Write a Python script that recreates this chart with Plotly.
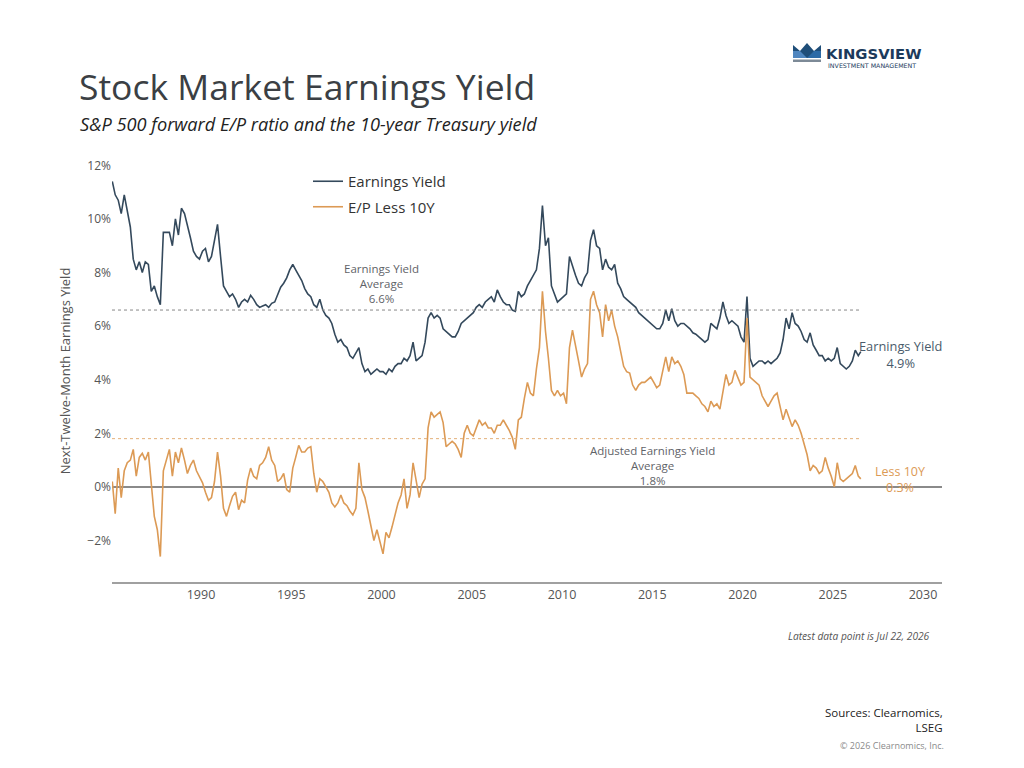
import pandas as pd
import plotly.graph_objects as go

# ---------------- data (bi-monthly readings, last point Jul 22, 2026) ----------------
earnings_yield = [
    11.4, 10.9, 10.7, 10.2, 10.9, 10.3,   # 1985
    9.7, 8.5, 8.1, 8.4, 8.0, 8.4,         # 1986
    8.3, 7.3, 7.5, 7.1, 6.8, 9.5,         # 1987
    9.5, 9.5, 9.0, 10.0, 9.4, 10.4,       # 1988
    10.2, 9.8, 9.3, 8.8, 8.6, 8.5,        # 1989
    8.8, 8.9, 8.4, 8.6, 9.2, 9.8,         # 1990
    8.6, 7.5, 7.3, 7.1, 7.2, 7.0,         # 1991
    6.7, 6.9, 7.0, 6.9, 7.15, 7.0,        # 1992
    6.8, 6.7, 6.75, 6.8, 6.7, 6.85,       # 1993
    6.9, 7.2, 7.45, 7.6, 7.8, 8.1,        # 1994
    8.3, 8.1, 7.9, 7.7, 7.4, 7.2,         # 1995
    7.1, 6.8, 6.7, 7.0, 6.6, 6.4,         # 1996
    6.3, 6.1, 5.7, 5.4, 5.5, 5.3,         # 1997
    5.2, 4.9, 4.8, 5.0, 5.2, 4.6,         # 1998
    4.3, 4.4, 4.2, 4.3, 4.4, 4.3,         # 1999
    4.3, 4.2, 4.4, 4.3, 4.5, 4.6,         # 2000
    4.6, 4.8, 4.7, 4.9, 5.4, 4.7,         # 2001
    4.8, 4.9, 5.4, 6.3, 6.5, 6.3,         # 2002
    6.4, 6.3, 5.9, 5.8, 5.7, 5.6,         # 2003
    5.6, 5.8, 6.1, 6.2, 6.3, 6.4,         # 2004
    6.5, 6.7, 6.8, 6.7, 6.9, 7.0,         # 2005
    7.1, 6.9, 7.35, 7.1, 6.9, 6.8,        # 2006
    6.8, 6.6, 6.55, 7.3, 7.1, 7.2,        # 2007
    7.5, 7.7, 7.9, 8.1, 8.9, 10.5,        # 2008
    9.0, 9.3, 7.5, 7.2, 6.9, 7.0,         # 2009
    7.1, 7.2, 8.6, 8.2, 7.9, 7.6,         # 2010
    7.5, 7.8, 8.0, 9.2, 9.6, 9.0,         # 2011
    8.9, 8.1, 8.5, 8.2, 8.1, 8.3,         # 2012
    7.6, 7.4, 7.1, 7.0, 6.9, 6.8,         # 2013
    6.7, 6.5, 6.4, 6.3, 6.2, 6.1,         # 2014
    6.0, 5.9, 5.9, 6.1, 6.6, 6.2,         # 2015
    6.65, 6.2, 6.0, 6.1, 6.1, 6.0,        # 2016
    5.9, 5.75, 5.7, 5.6, 5.5, 5.4,        # 2017
    5.5, 6.1, 6.0, 5.9, 6.3, 6.9,         # 2018
    6.4, 6.1, 6.2, 6.1, 6.0, 5.6,         # 2019
    5.4, 7.1, 4.8, 4.5, 4.6, 4.7,         # 2020
    4.7, 4.6, 4.7, 4.6, 4.7, 4.8,         # 2021
    5.0, 5.5, 6.3, 5.9, 6.5, 6.1,         # 2022
    6.0, 5.8, 5.5, 5.4, 5.75, 5.3,        # 2023
    5.1, 4.9, 4.9, 4.7, 4.8, 4.7,         # 2024
    4.8, 5.2, 4.6, 4.5, 4.4, 4.5,         # 2025
    4.7, 5.1, 4.9, 5.05,                  # 2026
]

ep_less_10y = [
    0.2, -1.0, 0.7, -0.4, 0.6, 0.9,       # 1985
    1.0, 1.4, 0.4, 1.1, 1.25, 1.0,        # 1986
    1.3, 0.0, -1.1, -1.6, -2.6, 0.6,      # 1987
    1.0, 1.4, 0.4, 1.3, 0.9, 1.45,        # 1988
    1.0, 0.5, 0.8, 1.0, 0.6, 0.4,         # 1989
    0.15, -0.2, -0.5, -0.4, 0.2, 1.3,     # 1990
    0.4, -0.8, -1.1, -0.7, -0.35, -0.2,   # 1991
    -0.85, -0.5, -0.6, 0.25, 0.7, 0.4,    # 1992
    0.3, 0.8, 0.9, 1.1, 1.5, 1.0,         # 1993
    0.8, 0.2, 0.3, 0.5, -0.1, -0.2,       # 1994
    0.7, 1.1, 1.55, 1.3, 1.3, 1.45,       # 1995
    1.5, 0.5, -0.2, 0.3, 0.2, 0.0,        # 1996
    -0.2, -0.6, -0.75, -0.6, -0.3, -0.6,  # 1997
    -0.7, -0.9, -1.05, -0.8, 0.9, -0.1,   # 1998
    -0.4, -0.9, -1.5, -2.0, -1.6, -2.0,   # 1999
    -2.5, -1.7, -1.9, -1.5, -1.0, -0.6,   # 2000
    -0.3, 0.3, -0.8, -0.3, 0.9, 0.2,      # 2001
    -0.4, 0.1, 0.3, 2.2, 2.8, 2.6,        # 2002
    2.7, 2.8, 2.4, 1.5, 1.6, 1.7,         # 2003
    1.6, 1.4, 1.1, 2.0, 2.3, 2.0,         # 2004
    1.9, 2.2, 2.5, 2.3, 2.4, 2.2,         # 2005
    2.2, 2.0, 2.3, 2.3, 2.5, 2.3,         # 2006
    2.1, 1.85, 1.4, 2.5, 2.6, 3.3,        # 2007
    3.9, 3.5, 3.4, 4.4, 5.2, 7.3,         # 2008
    5.8, 4.8, 3.6, 3.4, 3.6, 3.4,         # 2009
    3.5, 3.1, 5.2, 5.85, 5.2, 4.7,        # 2010
    4.1, 4.4, 4.6, 7.0, 7.3, 6.8,         # 2011
    6.5, 5.6, 6.8, 6.2, 6.6, 6.0,         # 2012
    5.6, 5.1, 4.5, 4.3, 4.25, 3.8,        # 2013
    3.6, 3.8, 3.9, 3.9, 4.0, 4.1,         # 2014
    3.9, 3.7, 3.8, 4.3, 4.85, 4.3,        # 2015
    4.85, 4.6, 4.7, 4.5, 4.2, 3.5,        # 2016
    3.5, 3.5, 3.4, 3.3, 3.1, 3.0,         # 2017
    2.8, 3.2, 3.0, 3.1, 2.9, 3.6,         # 2018
    4.2, 3.8, 3.9, 4.35, 4.1, 3.8,        # 2019
    3.9, 6.3, 4.1, 4.0, 3.9, 3.8,         # 2020
    3.4, 3.2, 3.0, 3.2, 3.4, 3.5,         # 2021
    3.0, 2.5, 2.9, 2.6, 2.25, 2.5,        # 2022
    2.3, 2.0, 1.6, 1.2, 0.6, 0.8,         # 2023
    0.7, 0.5, 0.6, 1.1, 0.7, 0.4,         # 2024
    0.0, 0.9, 0.3, 0.2, 0.3, 0.4,         # 2025
    0.5, 0.8, 0.4, 0.3,                   # 2026
]

ey_average = 6.6
adj_average = 1.8
latest_date = "2026-07-22"
ey_latest = 4.9
adj_latest = 0.3
x_ticks = [1990, 1995, 2000, 2005, 2010, 2015, 2020, 2025, 2030]
y_ticks = [-2, 0, 2, 4, 6, 8, 10, 12]
y_ticklabels = ["\u22122%", "0%", "2%", "4%", "6%", "8%", "10%", "12%"]


def make_dates(n):
    d = list(pd.date_range("1985-02-01", periods=n - 1, freq="2MS"))
    d.append(pd.Timestamp(latest_date))
    return d


# ---------------- style ----------------
FONT = "Open Sans"
C_EY = "#34495c"
C_EL = "#dc9a55"
GREY = "#5f6368"

# figure sits at page offset (8, 8); page-pixel positions below
OFF = 8
W, H = 1016, 760
L, R, T, B = 112, 942, 160, 582   # plot area in page pixels


def px(x):
    return (x - L) / (R - L)


def py(y):
    return (B - y) / (B - T)


fig = go.Figure()
fig.add_trace(go.Scatter(x=make_dates(len(earnings_yield)), y=earnings_yield,
                         mode="lines", name="Earnings Yield", legendgroup="a",
                         line=dict(color=C_EY, width=1.6)))
fig.add_trace(go.Scatter(x=make_dates(len(ep_less_10y)), y=ep_less_10y,
                         mode="lines", name="E/P Less 10Y", legendgroup="b",
                         line=dict(color=C_EL, width=1.6)))

x_start = "1985-01-26"
x_end = "2031-01-20"

shapes = [
    dict(type="line", xref="x", yref="y", x0=x_start, x1=latest_date,
         y0=ey_average, y1=ey_average, line=dict(color="#888888", width=1, dash="dot")),
    dict(type="line", xref="x", yref="y", x0=x_start, x1=latest_date,
         y0=adj_average, y1=adj_average, line=dict(color="#e3b07a", width=1, dash="dot")),
]


def path(points):
    return "M " + " L ".join(f"{px(a):.5f},{py(b):.5f}" for a, b in points) + " Z"


# crown logo
shapes += [
    dict(type="path", xref="paper", yref="paper",
         path=path([(793, 45), (800, 51), (807, 43), (814, 51), (821, 45), (821, 58), (793, 58)]),
         fillcolor="#1f4e79", line=dict(width=0)),
    dict(type="path", xref="paper", yref="paper",
         path=path([(793, 51), (800, 51), (807, 58), (793, 58)]),
         fillcolor="#4f86bf", line=dict(width=0)),
    dict(type="path", xref="paper", yref="paper",
         path=path([(807, 58), (814, 51), (821, 51), (821, 58)]),
         fillcolor="#2c6aa6", line=dict(width=0)),
    dict(type="rect", xref="paper", yref="paper",
         x0=px(793), x1=px(821), y0=py(62), y1=py(59.5),
         fillcolor="#7d8a97", line=dict(width=0)),
]


def ann(text, x, y, size, color, xanchor="left", yanchor="middle", align="left",
        italic=False, bold=False, font=FONT, xref="paper", yref="paper"):
    if italic:
        text = f"<i>{text}</i>"
    if bold:
        text = f"<b>{text}</b>"
    return dict(text=text, x=x, y=y, xref=xref, yref=yref, showarrow=False,
                xanchor=xanchor, yanchor=yanchor, align=align,
                font=dict(family=font, size=size, color=color))


annotations = [
    ann("Stock Market Earnings Yield", px(77), py(86), 35.5, "#3b3f44"),
    ann("S&P 500 forward E/P ratio and the 10-year Treasury yield", px(78), py(124), 18.2,
        "#222222", italic=True),
    ann("KINGSVIEW", px(824), py(54), 14.8, "#1b3a5c", bold=True, font="DejaVu Sans"),
    ann("INVESTMENT MANAGEMENT", px(826), py(65.5), 6.3, "#1b3a5c", font="DejaVu Sans"),
    ann("Earnings Yield<br>Average<br>6.6%", "2000-01-01", py(283), 11.5, GREY,
        xanchor="center", align="center", xref="x"),
    ann("Adjusted Earnings Yield<br>Average<br>1.8%", "2015-01-01", py(465), 11.5, GREY,
        xanchor="center", align="center", xref="x"),
    ann(f"Earnings Yield<br>{ey_latest}%", px(900), py(354), 12.8, "#4a5b6b",
        xanchor="center", align="center"),
    ann(f"Less 10Y<br>{adj_latest}%", px(900), py(479), 12.5, C_EL,
        xanchor="center", align="center"),
    ann("Latest data point is Jul 22, 2026", px(932), py(636), 10.2, "#555555",
        xanchor="right", italic=True),
    ann("Sources: Clearnomics,<br>LSEG", px(945), py(720), 11.5, "#222222",
        xanchor="right", align="right"),
    ann("© 2026 Clearnomics, Inc.", px(946), py(745), 9, "#8a8a8a", xanchor="right"),
]

fig.update_layout(
    width=W, height=H,
    margin=dict(l=L - OFF, r=W - (R - OFF), t=T - OFF, b=H - (B - OFF), pad=0),
    paper_bgcolor="white", plot_bgcolor="white",
    font=dict(family=FONT, color=GREY, size=12),
    showlegend=True,
    legend=dict(x=px(308), y=py(165), xanchor="left", yanchor="top",
                bgcolor="rgba(0,0,0,0)", font=dict(size=15, color="#333333"),
                tracegroupgap=3, itemwidth=30),
    shapes=shapes,
    annotations=annotations,
)

fig.update_xaxes(type="date", range=[x_start, x_end],
                 tickvals=[f"{y}-01-01" for y in x_ticks],
                 ticktext=[str(y) for y in x_ticks],
                 showgrid=False, zeroline=False,
                 showline=True, linecolor="#a0a0a0", linewidth=1.5,
                 ticks="", tickfont=dict(size=12.5, color="#555555"))
fig.update_yaxes(range=[-3.55, 12.2], tickvals=y_ticks, ticktext=y_ticklabels,
                 showgrid=False, showline=False, ticks="",
                 zeroline=True, zerolinecolor="#8a8a8a", zerolinewidth=1.5,
                 tickfont=dict(size=12, color="#555555"),
                 title=dict(text="Next-Twelve-Month Earnings Yield",
                            font=dict(size=13, color="#555555"), standoff=13))

fig.write_html("out.html")
